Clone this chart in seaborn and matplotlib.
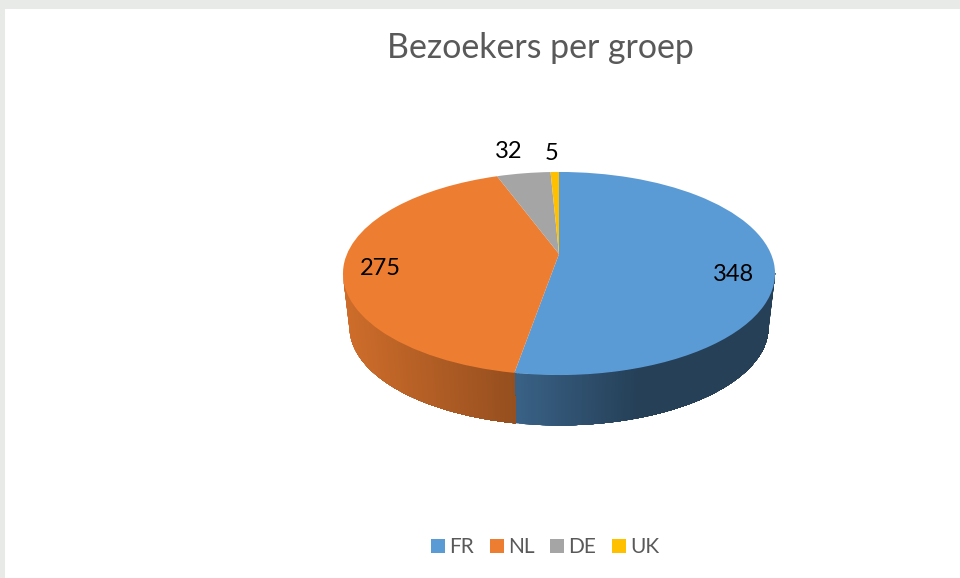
import matplotlib
matplotlib.use("Agg")
import matplotlib.pyplot as plt
from matplotlib.patches import Patch
from matplotlib.transforms import Transform
import numpy as np
import seaborn as sns

groups = ["FR", "NL", "DE", "UK"]
visitors = [348, 275, 32, 5]
colors = ["#5b9bd5", "#ed7d31", "#a5a5a5", "#ffc000"]

# pie centre, radii and tilt in pixels of the picture
CX, CY = 559, 254
RX, RY = 212, 97.8
TILT = 0.192
DEPTH = 54
BOTTOM_SCALE = 0.97


class PieView(Transform):
    """Tilted view of the unit circle that ax.pie draws in."""
    input_dims = 2
    output_dims = 2

    def __init__(self, scale=1.0, drop=0):
        super().__init__()
        self.scale = scale
        self.drop = drop

    def transform_non_affine(self, values):
        u, v = np.asarray(values).T
        w = 1 + TILT * v
        return np.column_stack((CX + self.scale * RX * u / w,
                                CY + self.drop - self.scale * RY * v / w))


def wall_shade(x, name):
    if name == "FR":
        return np.interp(x, [515, 640], [0.63, 0.41])
    return np.interp(x, [345, 515], [0.87, 0.63])


def draw_wall(ax, wedge, name, color):
    top_view = PieView()
    bottom_view = PieView(BOTTOM_SCALE, DEPTH)
    # the rim is widest on screen at these angles, the wall is hidden beyond them
    start = max(wedge.theta1, -169)
    end = min(wedge.theta2, -11)
    if start >= end:
        return
    angles = np.radians(np.linspace(start, end, 120))
    rim = np.column_stack((np.cos(angles), np.sin(angles)))
    top = top_view.transform_non_affine(rim)
    bottom = bottom_view.transform_non_affine(rim)
    rgb = np.array(matplotlib.colors.to_rgb(color))
    # each strip runs on to the end of the wall and the next one paints over it, so no seams show
    for i in range(len(rim) - 1):
        quad = np.vstack((top[i:], bottom[i:][::-1]))
        shade = tuple(rgb * wall_shade(top[i:i + 2, 0].mean(), name))
        ax.fill(quad[:, 0], quad[:, 1], facecolor=shade, edgecolor="none", zorder=1)


sns.set_theme(style="white")
plt.rcParams["font.family"] = ["Lato", "DejaVu Sans"]
palette = sns.color_palette(colors)

fig = plt.figure(figsize=(9.6, 5.78), dpi=100, facecolor="#e8eae8")
ax = fig.add_axes([5 / 960, 0, 955 / 960, 569 / 578])

wedges, _ = ax.pie(visitors, colors=palette, startangle=90, counterclock=False,
                   wedgeprops={"linewidth": 0})
ax.set_aspect("auto")
ax.set_xlim(5, 960)
ax.set_ylim(578, 9)
ax.set_frame_on(True)
ax.set_facecolor("white")
sns.despine(ax=ax, left=True, bottom=True, right=True, top=True)

view = PieView()
for wedge, name, color in zip(wedges, groups, colors):
    wedge.set_transform(view + ax.transData)
    wedge.set_zorder(2)
    draw_wall(ax, wedge, name, color)

# data labels
label_pos = [(733, 275), (380, 269), (509, 151), (552, 153)]
for value, (x, y) in zip(visitors, label_pos):
    ax.text(x, y, str(value), ha="center", va="center", fontsize=17, color="black", zorder=3)

fig.text(540 / 960, 1 - 48 / 578, "Bezoekers per groep", ha="center", va="center",
         fontsize=24.4, color="#595959")

handles = [Patch(facecolor=c, edgecolor="none", label=g) for g, c in zip(groups, colors)]
fig.legend(handles=handles, ncol=4, loc="center", bbox_to_anchor=(545 / 960, 1 - 547 / 578),
           frameon=False, fontsize=15, labelcolor="#595959", handlelength=0.67, handleheight=0.67,
           handletextpad=0.2, columnspacing=0.75)

fig.savefig("out.png", dpi=100, facecolor=fig.get_facecolor())
